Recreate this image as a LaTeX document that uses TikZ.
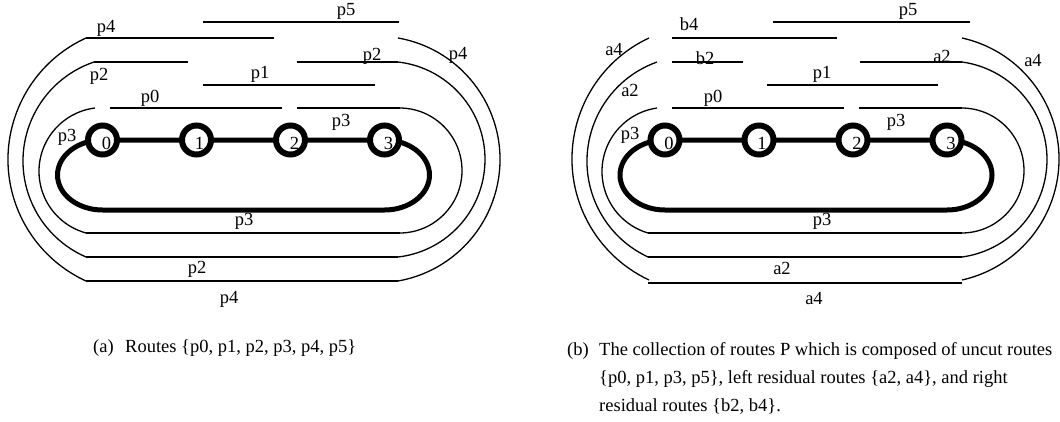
\documentclass[tikz,border=0pt]{standalone}
\usepackage{fontspec}
\setmainfont{Liberation Serif}
\usetikzlibrary{backgrounds}
% circular arc through three points A(#1,#2), B(#3,#4), C(#5,#6); #7 = angle correction
\newcommand\routearc[7]{%
  \pgfmathsetmacro\qAx{(#1-#3)/10}%
  \pgfmathsetmacro\qAy{(#2-#4)/10}%
  \pgfmathsetmacro\qCx{(#5-#3)/10}%
  \pgfmathsetmacro\qCy{(#6-#4)/10}%
  \pgfmathsetmacro\qD{2*(\qCx*\qAy-\qAx*\qCy)}%
  \pgfmathsetmacro\qAA{\qAx*\qAx+\qAy*\qAy}%
  \pgfmathsetmacro\qCC{\qCx*\qCx+\qCy*\qCy}%
  \pgfmathsetmacro\qUx{(\qCC*\qAy-\qAA*\qCy)/\qD}%
  \pgfmathsetmacro\qUy{(\qAA*\qCx-\qCC*\qAx)/\qD}%
  \pgfmathsetmacro\qR{10*sqrt(\qUx*\qUx+\qUy*\qUy)}%
  \pgfmathsetmacro\qSa{atan2(\qAy-\qUy,\qAx-\qUx)}%
  \pgfmathsetmacro\qEa{atan2(\qCy-\qUy,\qCx-\qUx)+#7}%
  \draw[route] (#1,#2) arc[start angle=\qSa, end angle=\qEa, radius=\qR];%
}
\begin{document}
\begin{tikzpicture}[x=1pt,y=1pt,yscale=-1,
  route/.style={line width=1.3pt},
  thickroute/.style={line width=5pt,line join=round},
  vert/.style={circle,draw,line width=6pt,fill=white,minimum size=29pt,inner sep=0pt},
  lab/.style={inner sep=0pt,font=\fontsize{18.5}{22}\selectfont},
  captext/.style={inner sep=0pt,anchor=base west,font=\fontsize{18.5}{22}\selectfont}]
\useasboundingbox (0,0) rectangle (1060,421);

% ---------------- (a) ----------------
\draw[route] (203,22) -- (399,22);
\draw[route] (86,38) -- (274,38);
\routearc{86}{38}{8}{159.5}{86}{281}{-360}
\routearc{398}{38}{500}{159.5}{398}{281}{0}
\draw[route] (86,281) -- (398,281);
\draw[route] (94,62) -- (188,62);
\routearc{94}{62}{23}{159.5}{86}{257}{-360}
\draw[route] (297,62) -- (398,62);
\routearc{398}{62}{485}{159.5}{398}{257}{0}
\draw[route] (86,257) -- (398,257);
\draw[route] (203,85) -- (375,85);
\routearc{95}{108}{39}{170.5}{86}{233}{-360}
\draw[route] (110,108) -- (282,108);
\draw[route] (297,108) -- (400,108);
\routearc{400}{108}{462}{170.5}{400}{233}{0}
\draw[route] (86,233) -- (400,233);

\node[vert] (a0) at (102.5,140) {};
\node[vert] (a1) at (196.5,140) {};
\node[vert] (a2) at (290.5,140) {};
\node[vert] (a3) at (384.5,140) {};
\begin{pgfonlayer}{background}
\draw[thickroute] (a0.center) arc[start angle=270,end angle=90,x radius=45,y radius=35]
  -- ++(282,0) arc[start angle=90,end angle=-90,x radius=45,y radius=35]
  -- (a2.center) -- (a1.center) -- cycle;
\end{pgfonlayer}
\node[lab] (na0) at (106.5,143) {0};
\node[lab] (na1) at (199.5,143) {1};
\node[lab] (na2) at (294.5,143) {2};
\node[lab] (na3) at (388.5,143) {3};

\node[lab] (la1) at (346,11) {p5};
\node[lab] (la2) at (106,28) {p4};
\node[lab] (la3) at (458,55) {p4};
\node[lab] (la4) at (99,76) {p2};
\node[lab] (la5) at (372,56) {p2};
\node[lab] (la6) at (260,74) {p1};
\node[lab] (la7) at (150,98) {p0};
\node[lab] (la8) at (67,137) {p3};
\node[lab] (la9) at (341,122) {p3};
\node[lab] (la10) at (244,221) {p3};
\node[lab] (la11) at (197,269) {p2};
\node[lab] (la12) at (229,299) {p4};

% ---------------- (b) ----------------
\draw[route] (773,22) -- (970,22);
\routearc{649}{38}{572}{159.5}{649}{280}{-360}
\draw[route] (672,38) -- (837,38);
\routearc{962}{38}{1059}{159.5}{962}{280}{0}
\draw[route] (648,283) -- (962,283);
\routearc{657}{62}{587}{159.5}{648}{257}{-360}
\draw[route] (672,62) -- (743,62);
\draw[route] (860,62) -- (962,62);
\routearc{962}{62}{1047}{159.5}{962}{257}{0}
\draw[route] (648,257) -- (962,257);
\draw[route] (767,85) -- (938,85);
\routearc{657}{108}{602}{170.5}{648}{233}{-360}
\draw[route] (672,108) -- (844,108);
\draw[route] (859,108) -- (962,108);
\routearc{962}{108}{1024}{170.5}{962}{233}{0}
\draw[route] (648,233) -- (962,233);

\node[vert] (b0) at (665,140) {};
\node[vert] (b1) at (759,140) {};
\node[vert] (b2) at (853,140) {};
\node[vert] (b3) at (947,140) {};
\begin{pgfonlayer}{background}
\draw[thickroute] (b0.center) arc[start angle=270,end angle=90,x radius=45,y radius=35]
  -- ++(282,0) arc[start angle=90,end angle=-90,x radius=45,y radius=35]
  -- (b2.center) -- (b1.center) -- cycle;
\end{pgfonlayer}
\node[lab] (nb0) at (669,143) {0};
\node[lab] (nb1) at (762,143) {1};
\node[lab] (nb2) at (857,143) {2};
\node[lab] (nb3) at (951,143) {3};

\node[lab] (lb1) at (908,11) {p5};
\node[lab] (lb2) at (689,24) {b4};
\node[lab] (lb3) at (614,49) {a4};
\node[lab] (lb4) at (705,58) {b2};
\node[lab] (lb5) at (942,56) {a2};
\node[lab] (lb6) at (1033,60) {a4};
\node[lab] (lb7) at (630,90) {a2};
\node[lab] (lb8) at (822,74) {p1};
\node[lab] (lb9) at (713,98) {p0};
\node[lab] (lb10) at (630,135) {p3};
\node[lab] (lb11) at (896,122) {p3};
\node[lab] (lb12) at (822,221) {p3};
\node[lab] (lb13) at (782,268) {a2};
\node[lab] (lb14) at (814,298) {a4};

% ---------------- captions ----------------
\node[captext] (capa1) at (93,352) {(a)};
\node[captext] (capa2) at (125,352) {Routes \{p0, p1, p2, p3, p4, p5\}};
\node[captext] (capb1) at (567,355) {(b)};
\node[captext] (capb2) at (599,355) {The collection of routes P which is composed of uncut routes};
\node[captext] (capb3) at (599,383) {\{p0, p1, p3, p5\}, left residual routes \{a2, a4\}, and right};
\node[captext] (capb4) at (599,411) {residual routes \{b2, b4\}.};
\end{tikzpicture}
\end{document}
